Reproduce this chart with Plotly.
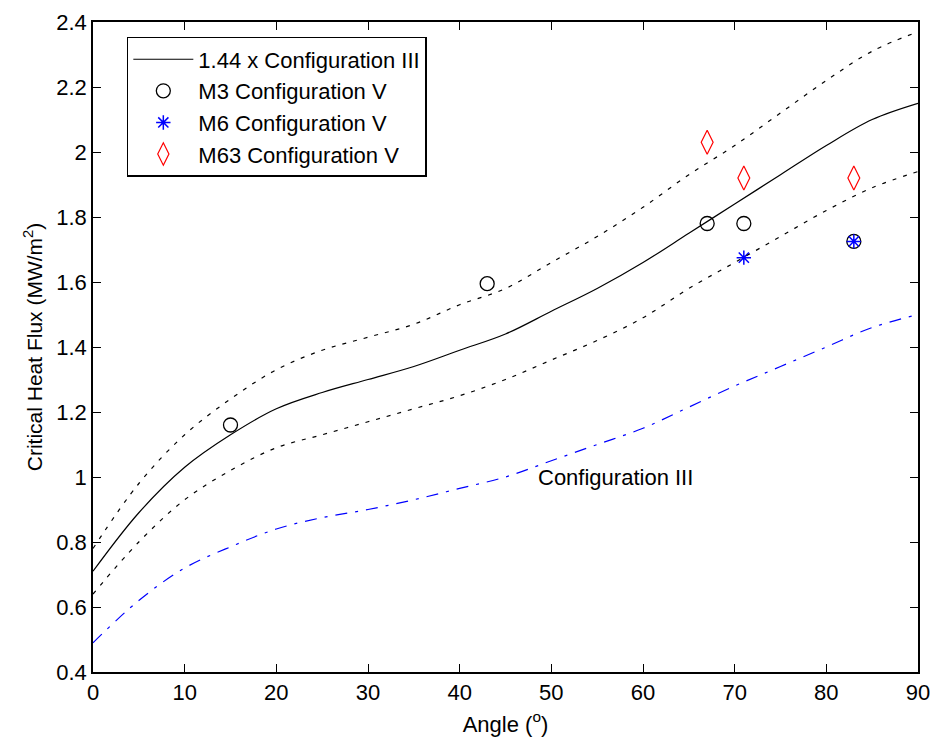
import plotly.graph_objects as go

angle = [0, 5, 10, 15, 20, 25, 30, 35, 40, 45, 50, 55, 60, 65, 70, 75, 80, 85, 90]
chf_144 = [0.71, 0.89, 1.03, 1.13, 1.21, 1.26, 1.30, 1.34, 1.39, 1.44, 1.51, 1.58, 1.66, 1.75, 1.84, 1.93, 2.02, 2.10, 2.15]
chf_upper = [0.78, 0.98, 1.13, 1.24, 1.33, 1.39, 1.43, 1.47, 1.53, 1.58, 1.66, 1.74, 1.83, 1.93, 2.02, 2.12, 2.22, 2.31, 2.37]
chf_lower = [0.64, 0.80, 0.93, 1.02, 1.09, 1.13, 1.17, 1.21, 1.25, 1.30, 1.36, 1.42, 1.49, 1.58, 1.66, 1.74, 1.82, 1.89, 1.94]
chf_conf3 = [0.49, 0.62, 0.72, 0.785, 0.84, 0.875, 0.90, 0.93, 0.965, 1.00, 1.05, 1.10, 1.15, 1.215, 1.28, 1.34, 1.40, 1.46, 1.50]

m3_x = [15, 43, 67, 71, 83]
m3_y = [1.16, 1.595, 1.78, 1.78, 1.725]
m6_x = [71, 83]
m6_y = [1.675, 1.725]
m63_x = [67, 71, 83]
m63_y = [2.03, 1.92, 1.92]

font = "Liberation Sans, Arial, sans-serif"

fig = go.Figure()
fig.add_trace(go.Scatter(x=angle, y=chf_144, mode="lines", name="1.44 x Configuration III",
                         line=dict(color="black", width=1.2, shape="spline")))
fig.add_trace(go.Scatter(x=m3_x, y=m3_y, mode="markers", name="M3 Configuration V",
                         marker=dict(symbol="circle-open", size=14, color="black", line=dict(width=1.3))))
fig.add_trace(go.Scatter(x=m6_x, y=m6_y, mode="markers", name="M6 Configuration V",
                         marker=dict(symbol="asterisk-open", size=12, color="blue", line=dict(width=1.5, color="blue"))))
fig.add_trace(go.Scatter(x=m63_x, y=m63_y, mode="markers", name="M63 Configuration V",
                         marker=dict(symbol="diamond-tall-open", size=17, color="red", line=dict(width=1.2, color="red"))))
fig.add_trace(go.Scatter(x=angle, y=chf_upper, mode="lines", showlegend=False,
                         line=dict(color="black", width=1.2, dash="4px,7px", shape="spline")))
fig.add_trace(go.Scatter(x=angle, y=chf_lower, mode="lines", showlegend=False,
                         line=dict(color="black", width=1.2, dash="4px,7px", shape="spline")))
fig.add_trace(go.Scatter(x=angle, y=chf_conf3, mode="lines", showlegend=False,
                         line=dict(color="blue", width=1.2, dash="12px,8px,3px,8px", shape="spline")))

fig.add_annotation(x=57, y=1.0, text="Configuration III", showarrow=False,
                   font=dict(family=font, size=22, color="black"))

axis_common = dict(showline=True, linecolor="black", linewidth=1.5, mirror="ticks",
                   ticks="inside", ticklen=8, tickcolor="black", showgrid=False, zeroline=False,
                   automargin=False,
                   tickfont=dict(family=font, size=22, color="black"))

fig.update_layout(
    width=932, height=751,
    margin=dict(l=93, r=14, t=22, b=79),
    paper_bgcolor="white", plot_bgcolor="white",
    font=dict(family=font, size=22, color="black"),
    xaxis=dict(range=[0, 90], tickvals=list(range(0, 91, 10)),
               title=dict(text="Angle (<sup>o</sup>)", font=dict(family=font, size=22), standoff=12),
               **axis_common),
    yaxis=dict(range=[0.4, 2.4], tickvals=[0.4, 0.6, 0.8, 1, 1.2, 1.4, 1.6, 1.8, 2, 2.2, 2.4],
               ticktext=["0.4", "0.6", "0.8", "1", "1.2", "1.4", "1.6", "1.8", "2", "2.2", "2.4"],
               title=dict(text="Critical Heat Flux (MW/m<sup>2</sup>)", font=dict(family=font, size=21), standoff=8),
               **axis_common),
    legend=dict(x=0.041, y=0.977, xanchor="left", yanchor="top",
                bgcolor="white", bordercolor="black", borderwidth=1.5,
                font=dict(family=font, size=22, color="black"),
                tracegroupgap=0, itemwidth=60),
    showlegend=True,
)

fig.write_html("out.html")
